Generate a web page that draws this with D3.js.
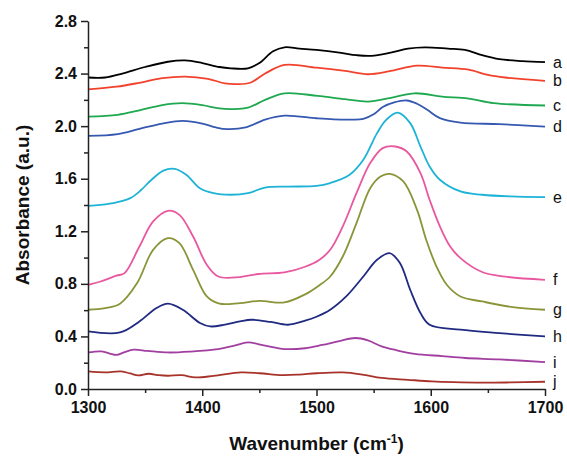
<!DOCTYPE html>
<html>
<head>
<meta charset="utf-8">
<script src="https://cdn.jsdelivr.net/npm/d3@7"></script>
<style>
  body { margin: 0; background: #fff; }
  text { font-family: "Liberation Sans", Arial, sans-serif; }
</style>
</head>
<body>
<div id="chart"></div>
<script>
const width = 567;
const height = 456;

// spectra, [wavenumber, absorbance]
const seriesA = [[1300,2.37],[1315,2.37],[1330,2.40],[1350,2.45],[1370,2.49],[1385,2.50],[1400,2.48],[1415,2.45],[1425,2.44],[1440,2.44],[1450,2.48],[1462,2.57],[1472,2.60],[1485,2.59],[1500,2.58],[1520,2.56],[1535,2.54],[1548,2.535],[1565,2.56],[1580,2.59],[1595,2.60],[1615,2.59],[1630,2.58],[1645,2.54],[1660,2.51],[1680,2.495],[1700,2.487]];
const seriesB = [[1300,2.28],[1325,2.30],[1345,2.33],[1365,2.365],[1385,2.377],[1405,2.36],[1420,2.325],[1430,2.32],[1442,2.33],[1455,2.40],[1472,2.466],[1500,2.445],[1525,2.42],[1545,2.395],[1565,2.42],[1588,2.46],[1610,2.445],[1633,2.43],[1650,2.39],[1665,2.37],[1700,2.345]];
const seriesC = [[1300,2.073],[1326,2.086],[1345,2.12],[1365,2.16],[1382,2.175],[1400,2.16],[1415,2.135],[1426,2.13],[1440,2.14],[1455,2.20],[1472,2.25],[1501,2.23],[1525,2.205],[1545,2.187],[1565,2.215],[1586,2.25],[1610,2.225],[1633,2.21],[1655,2.175],[1700,2.157]];
const seriesD = [[1300,1.926],[1326,1.94],[1345,1.98],[1365,2.02],[1383,2.04],[1400,2.02],[1412,1.99],[1422,1.977],[1438,1.99],[1455,2.05],[1472,2.08],[1500,2.06],[1515,2.052],[1530,2.05],[1541,2.055],[1550,2.09],[1558,2.145],[1568,2.18],[1579,2.195],[1588,2.17],[1597,2.124],[1608,2.061],[1626,2.027],[1660,2.015],[1700,1.997]];
const seriesE = [[1300,1.394],[1311,1.401],[1325,1.42],[1337,1.452],[1346,1.51],[1354,1.579],[1366,1.662],[1376,1.675],[1386,1.63],[1398,1.528],[1410,1.49],[1425,1.478],[1440,1.49],[1455,1.533],[1475,1.54],[1500,1.545],[1512,1.567],[1529,1.63],[1541,1.744],[1553,1.947],[1561,2.048],[1571,2.103],[1582,2.023],[1591,1.845],[1599,1.693],[1608,1.592],[1626,1.503],[1645,1.478],[1670,1.465],[1700,1.46]];
const seriesF = [[1300,0.793],[1311,0.818],[1325,0.862],[1332,0.882],[1345,1.084],[1357,1.275],[1370,1.356],[1380,1.325],[1392,1.16],[1404,0.945],[1414,0.856],[1433,0.852],[1449,0.875],[1472,0.887],[1490,0.93],[1502,0.98],[1512,1.059],[1523,1.237],[1535,1.49],[1547,1.719],[1558,1.833],[1569,1.845],[1579,1.807],[1591,1.643],[1599,1.44],[1608,1.237],[1617,1.084],[1626,0.996],[1645,0.89],[1665,0.855],[1700,0.831]];
const seriesG = [[1300,0.603],[1315,0.615],[1328,0.649],[1343,0.806],[1357,1.059],[1370,1.148],[1380,1.11],[1392,0.907],[1404,0.704],[1415,0.649],[1433,0.654],[1450,0.67],[1472,0.659],[1490,0.72],[1502,0.786],[1512,0.856],[1523,1.008],[1535,1.262],[1547,1.528],[1556,1.617],[1564,1.637],[1576,1.579],[1588,1.363],[1596,1.135],[1605,0.932],[1614,0.793],[1626,0.704],[1645,0.666],[1670,0.625],[1700,0.603]];
const seriesH = [[1300,0.438],[1328,0.43],[1345,0.514],[1360,0.616],[1370,0.649],[1383,0.603],[1398,0.502],[1407,0.476],[1420,0.49],[1433,0.514],[1443,0.527],[1460,0.51],[1475,0.489],[1490,0.52],[1500,0.55],[1512,0.603],[1526,0.704],[1541,0.856],[1553,0.983],[1564,1.034],[1573,0.958],[1582,0.755],[1591,0.578],[1599,0.489],[1626,0.451],[1660,0.425],[1700,0.40]];
const seriesI = [[1300,0.278],[1312,0.286],[1319,0.27],[1325,0.259],[1332,0.28],[1340,0.299],[1352,0.29],[1370,0.278],[1390,0.285],[1414,0.304],[1428,0.33],[1440,0.354],[1455,0.33],[1472,0.304],[1490,0.31],[1505,0.335],[1520,0.365],[1534,0.388],[1545,0.37],[1557,0.324],[1570,0.295],[1586,0.268],[1610,0.25],[1630,0.236],[1660,0.225],[1700,0.205]];
const seriesJ = [[1300,0.134],[1315,0.127],[1329,0.134],[1337,0.118],[1344,0.103],[1353,0.116],[1362,0.105],[1370,0.101],[1382,0.105],[1394,0.088],[1410,0.10],[1434,0.126],[1450,0.12],[1470,0.106],[1485,0.11],[1500,0.12],[1523,0.126],[1540,0.11],[1557,0.084],[1580,0.07],[1601,0.058],[1620,0.052],[1645,0.048],[1670,0.05],[1700,0.055]];

const seriesNames = ["a", "b", "c", "d", "e", "f", "g", "h", "i", "j"];
const seriesColors = ["#000000", "#f2422c", "#1ea84f", "#3558b0", "#1db3d6", "#e9589f", "#8a9438", "#1f2a80", "#a13fa0", "#a8332b"];
const allSeries = [seriesA, seriesB, seriesC, seriesD, seriesE, seriesF, seriesG, seriesH, seriesI, seriesJ];

const xTicks = [1300, 1400, 1500, 1600, 1700];
const xMinor = [1350, 1450, 1550, 1650];
const yTicks = [0.0, 0.4, 0.8, 1.2, 1.6, 2.0, 2.4, 2.8];
const yMinor = [0.2, 0.6, 1.0, 1.4, 1.8, 2.2, 2.6];

const margin = {left: 88, right: 22, top: 21, bottom: 67};

const x = d3.scaleLinear()
    .domain([1300, 1700])
    .range([margin.left, width - margin.right]);
const y = d3.scaleLinear()
    .domain([0, 2.8])
    .range([height - margin.bottom, margin.top]);

const svg = d3.select("#chart")
    .append("svg")
    .attr("width", width)
    .attr("height", height);

const line = d3.line()
    .x(d => x(d[0]))
    .y(d => y(d[1]))
    .curve(d3.curveCatmullRom.alpha(0.5));

svg.append("g")
    .selectAll("path")
    .data(allSeries)
    .join("path")
    .attr("d", line)
    .attr("fill", "none")
    .attr("stroke", (d, i) => seriesColors[i])
    .attr("stroke-width", 1.8);

// series letters at the right end
svg.append("g")
    .selectAll("text")
    .data(allSeries)
    .join("text")
    .attr("x", width - margin.right + 8)
    .attr("y", d => y(d[d.length - 1][1]))
    .attr("dy", "0.35em")
    .attr("font-size", 16)
    .attr("fill", "#111")
    .text((d, i) => seriesNames[i]);

// axes
svg.append("g")
    .attr("transform", `translate(0,${y(0)})`)
    .call(d3.axisBottom(x).tickValues(xTicks).tickFormat(d3.format("d")).tickSize(7).tickSizeOuter(0).tickPadding(6));
svg.append("g")
    .attr("transform", `translate(0,${y(0)})`)
    .call(d3.axisBottom(x).tickValues(xMinor).tickFormat("").tickSize(4).tickSizeOuter(0))
    .call(g => g.select(".domain").remove());

svg.append("g")
    .attr("transform", `translate(${x(1300)},0)`)
    .call(d3.axisLeft(y).tickValues(yTicks).tickFormat(d3.format(".1f")).tickSize(7).tickSizeOuter(0).tickPadding(4));
svg.append("g")
    .attr("transform", `translate(${x(1300)},0)`)
    .call(d3.axisLeft(y).tickValues(yMinor).tickFormat("").tickSize(4).tickSizeOuter(0))
    .call(g => g.select(".domain").remove());

svg.selectAll(".domain, .tick line")
    .attr("stroke", "#222")
    .attr("stroke-width", 1.5);
svg.selectAll(".tick text")
    .attr("font-family", "Liberation Sans, Arial, sans-serif")
    .attr("font-size", 16)
    .attr("font-weight", "bold")
    .attr("fill", "#111");

// titles
const xTitle = svg.append("text")
    .attr("x", (x(1300) + x(1700)) / 2)
    .attr("y", 450)
    .attr("text-anchor", "middle")
    .attr("font-size", 19)
    .attr("font-weight", "bold")
    .attr("fill", "#111");
xTitle.append("tspan").text("Wavenumber (cm");
xTitle.append("tspan").attr("dy", -7).attr("font-size", 12).text("-1");
xTitle.append("tspan").attr("dy", 7).text(")");

svg.append("text")
    .attr("transform", `translate(29,${(y(0) + y(2.8)) / 2}) rotate(-90)`)
    .attr("text-anchor", "middle")
    .attr("font-size", 19)
    .attr("font-weight", "bold")
    .attr("fill", "#111")
    .text("Absorbance (a.u.)");
</script>
</body>
</html>
